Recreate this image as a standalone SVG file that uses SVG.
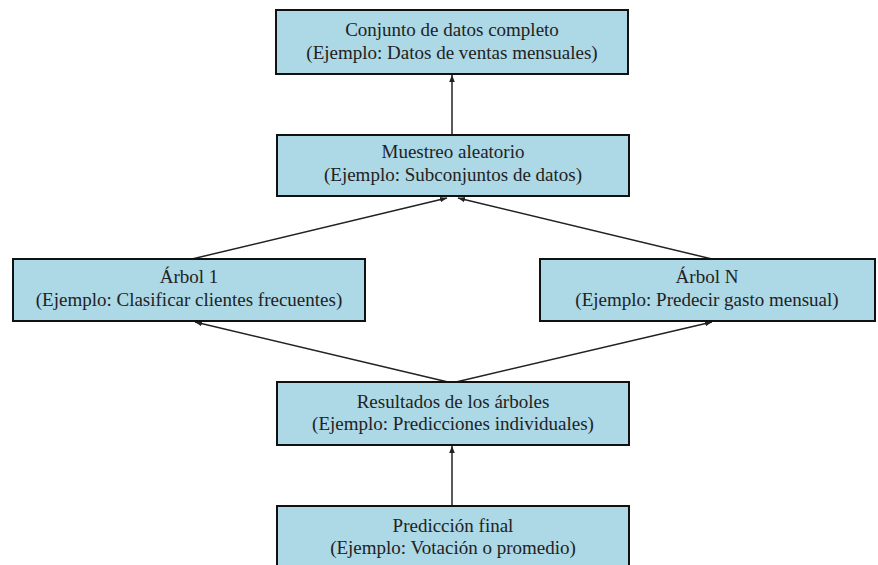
<svg xmlns="http://www.w3.org/2000/svg" width="878" height="565" viewBox="0 0 878 565">
  <style>
    .box { fill: #add8e6; stroke: #111; stroke-width: 2; }
    .label { font-family: "Liberation Serif", "Times New Roman", serif; font-size: 19px; fill: #222; text-anchor: middle; }
    .edge { stroke: #222; stroke-width: 1.5; fill: none; marker-end: url(#arrow); }
  </style>
  <defs>
    <marker id="arrow" viewBox="0 0 10 10" refX="10" refY="5" markerWidth="7" markerHeight="7" markerUnits="userSpaceOnUse" orient="auto">
      <path d="M0,1 L10,5 L0,9 Z" fill="#222"/>
    </marker>
  </defs>
  <rect width="878" height="565" fill="#fff"/>

  <g id="edges">
    <line class="edge" x1="452" y1="135" x2="452" y2="75"/>
    <line class="edge" x1="192" y1="259" x2="447" y2="198"/>
    <line class="edge" x1="712" y1="259" x2="458" y2="198"/>
    <line class="edge" x1="448" y1="382" x2="195" y2="322"/>
    <line class="edge" x1="456" y1="382" x2="712" y2="322"/>
    <line class="edge" x1="452" y1="506" x2="452" y2="446"/>
  </g>

  <g id="dataset">
    <rect class="box" x="276" y="10" width="352" height="64"/>
    <text class="label" x="452" y="36">Conjunto de datos completo</text>
    <text class="label" x="452" y="59">(Ejemplo: Datos de ventas mensuales)</text>
  </g>

  <g id="sampling">
    <rect class="box" x="277" y="135" width="352" height="61"/>
    <text class="label" x="453" y="158">Muestreo aleatorio</text>
    <text class="label" x="453" y="181">(Ejemplo: Subconjuntos de datos)</text>
  </g>

  <g id="tree1">
    <rect class="box" x="13" y="259" width="352" height="62"/>
    <text class="label" x="189" y="283">Árbol 1</text>
    <text class="label" x="189" y="306">(Ejemplo: Clasificar clientes frecuentes)</text>
  </g>

  <g id="treeN">
    <rect class="box" x="540" y="259" width="335" height="62"/>
    <text class="label" x="707" y="283">Árbol N</text>
    <text class="label" x="707" y="306">(Ejemplo: Predecir gasto mensual)</text>
  </g>

  <g id="results">
    <rect class="box" x="277" y="382" width="352" height="63"/>
    <text class="label" x="453" y="408">Resultados de los árboles</text>
    <text class="label" x="453" y="430">(Ejemplo: Predicciones individuales)</text>
  </g>

  <g id="final">
    <rect class="box" x="277" y="506" width="352" height="70"/>
    <text class="label" x="453" y="532">Predicción final</text>
    <text class="label" x="453" y="554">(Ejemplo: Votación o promedio)</text>
  </g>
</svg>
